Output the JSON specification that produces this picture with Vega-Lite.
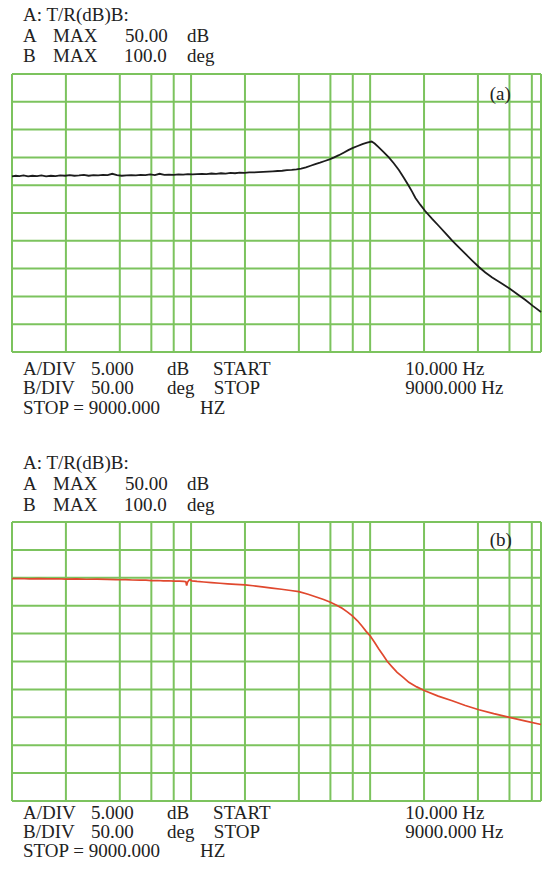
{
  "$schema": "https://vega.github.io/schema/vega-lite/v6.json",
  "background": "white",
  "autosize": {"type": "pad"},
  "padding": {"left": 8, "top": 6, "right": 0, "bottom": 0},
  "config": {
    "view": {"stroke": null},
    "font": "Liberation Serif"
  },
  "bounds": "flush",
  "spacing": 170,
  "resolve": {"scale": {"x": "independent", "y": "independent"}},
  "datasets": {
    "freqGrid": [
      {"f": 10}, {"f": 20}, {"f": 40}, {"f": 60}, {"f": 80}, {"f": 100}, {"f": 200}, {"f": 400},
      {"f": 600}, {"f": 800}, {"f": 1000}, {"f": 2000}, {"f": 4000}, {"f": 6000}, {"f": 8000}, {"f": 9000}
    ],
    "dbGrid": [
      {"v": 0}, {"v": 5}, {"v": 10}, {"v": 15}, {"v": 20}, {"v": 25}, {"v": 30}, {"v": 35}, {"v": 40}, {"v": 45}, {"v": 50}
    ],
    "degGrid": [
      {"v": -400}, {"v": -350}, {"v": -300}, {"v": -250}, {"v": -200}, {"v": -150}, {"v": -100}, {"v": -50}, {"v": 0}, {"v": 50}, {"v": 100}
    ],
    "magnitude": [
      {"f": 10, "db": 31.6}, {"f": 10.5, "db": 31.7}, {"f": 11, "db": 31.65}, {"f": 11.6, "db": 31.75},
      {"f": 12.3, "db": 31.6}, {"f": 13, "db": 31.7}, {"f": 13.8, "db": 31.65}, {"f": 14.6, "db": 31.75},
      {"f": 15.5, "db": 31.6}, {"f": 16.5, "db": 31.7}, {"f": 17.5, "db": 31.65}, {"f": 18.6, "db": 31.75},
      {"f": 19.8, "db": 31.7}, {"f": 21, "db": 31.8}, {"f": 22.3, "db": 31.7}, {"f": 23.7, "db": 31.75},
      {"f": 25.2, "db": 31.85}, {"f": 26.8, "db": 31.7}, {"f": 28.5, "db": 31.8}, {"f": 30.3, "db": 31.75},
      {"f": 32.2, "db": 31.85}, {"f": 34.2, "db": 31.8}, {"f": 36.3, "db": 32.05}, {"f": 38.6, "db": 31.8},
      {"f": 41, "db": 31.7}, {"f": 43.6, "db": 31.75}, {"f": 46.3, "db": 31.8}, {"f": 49.2, "db": 31.75},
      {"f": 52.3, "db": 31.85}, {"f": 55.6, "db": 31.8}, {"f": 59.1, "db": 31.95}, {"f": 62.8, "db": 31.8},
      {"f": 66.7, "db": 32.05}, {"f": 70.9, "db": 31.85}, {"f": 75.3, "db": 31.9}, {"f": 80, "db": 31.85},
      {"f": 85, "db": 31.95}, {"f": 90.4, "db": 31.9}, {"f": 96, "db": 32.0}, {"f": 102, "db": 31.95},
      {"f": 108, "db": 32.0}, {"f": 115, "db": 32.05}, {"f": 122, "db": 32.0}, {"f": 130, "db": 32.1},
      {"f": 138, "db": 32.05}, {"f": 147, "db": 32.15}, {"f": 156, "db": 32.1}, {"f": 166, "db": 32.2},
      {"f": 176, "db": 32.15}, {"f": 187, "db": 32.25}, {"f": 199, "db": 32.2}, {"f": 211, "db": 32.3},
      {"f": 224, "db": 32.3}, {"f": 238, "db": 32.35}, {"f": 253, "db": 32.4}, {"f": 269, "db": 32.45},
      {"f": 286, "db": 32.5}, {"f": 304, "db": 32.55}, {"f": 323, "db": 32.6}, {"f": 343, "db": 32.7},
      {"f": 365, "db": 32.75}, {"f": 388, "db": 32.85}, {"f": 412, "db": 33.0}, {"f": 438, "db": 33.2},
      {"f": 465, "db": 33.5}, {"f": 494, "db": 33.8}, {"f": 525, "db": 34.05}, {"f": 558, "db": 34.35},
      {"f": 593, "db": 34.65}, {"f": 630, "db": 35.0}, {"f": 669, "db": 35.4}, {"f": 711, "db": 35.85},
      {"f": 755, "db": 36.3}, {"f": 802, "db": 36.7}, {"f": 852, "db": 37.05}, {"f": 905, "db": 37.4},
      {"f": 961, "db": 37.65}, {"f": 1020, "db": 37.85}, {"f": 1060, "db": 37.5}, {"f": 1118, "db": 36.8},
      {"f": 1190, "db": 35.95}, {"f": 1272, "db": 35.0}, {"f": 1355, "db": 33.95}, {"f": 1447, "db": 32.73},
      {"f": 1545, "db": 31.3}, {"f": 1645, "db": 29.86}, {"f": 1715, "db": 28.85}, {"f": 1791, "db": 27.7},
      {"f": 1905, "db": 26.5}, {"f": 2029, "db": 25.36}, {"f": 2220, "db": 23.95}, {"f": 2420, "db": 22.66},
      {"f": 2640, "db": 21.35}, {"f": 2872, "db": 20.02}, {"f": 3130, "db": 18.8}, {"f": 3407, "db": 17.63},
      {"f": 3715, "db": 16.45}, {"f": 4049, "db": 15.29}, {"f": 4400, "db": 14.3}, {"f": 4804, "db": 13.4},
      {"f": 5380, "db": 12.4}, {"f": 6003, "db": 11.42}, {"f": 6650, "db": 10.4}, {"f": 7372, "db": 9.35},
      {"f": 8100, "db": 8.3}, {"f": 9000, "db": 7.19}
    ],
    "phase": [
      {"f": 10, "deg": -1.5}, {"f": 11, "deg": -1.3}, {"f": 12.5, "deg": -1.8}, {"f": 14, "deg": -1.5},
      {"f": 16, "deg": -1.9}, {"f": 18, "deg": -1.7}, {"f": 20, "deg": -2.3}, {"f": 23, "deg": -2.1},
      {"f": 26, "deg": -2.6}, {"f": 30, "deg": -2.5}, {"f": 34, "deg": -2.9}, {"f": 38, "deg": -3.1},
      {"f": 40, "deg": -3.5}, {"f": 43, "deg": -3.3}, {"f": 47, "deg": -3.9}, {"f": 52, "deg": -4.2},
      {"f": 56, "deg": -4.0}, {"f": 60, "deg": -5.0}, {"f": 65, "deg": -4.8}, {"f": 70, "deg": -5.4},
      {"f": 75, "deg": -5.3}, {"f": 80, "deg": -6.0}, {"f": 86, "deg": -5.9}, {"f": 91, "deg": -6.4},
      {"f": 93.5, "deg": -7.0}, {"f": 94.5, "deg": -14.0}, {"f": 95.5, "deg": -8.0}, {"f": 97.5, "deg": -4.0},
      {"f": 99, "deg": -3.5}, {"f": 101, "deg": -5.5}, {"f": 108, "deg": -6.5}, {"f": 118, "deg": -7.5},
      {"f": 130, "deg": -8.6}, {"f": 145, "deg": -9.8}, {"f": 160, "deg": -10.8}, {"f": 178, "deg": -11.7},
      {"f": 200, "deg": -12.6}, {"f": 222, "deg": -14.3}, {"f": 250, "deg": -16.4}, {"f": 283, "deg": -18.6},
      {"f": 320, "deg": -20.5}, {"f": 360, "deg": -22.8}, {"f": 400, "deg": -24.9}, {"f": 450, "deg": -29.5},
      {"f": 500, "deg": -34.5}, {"f": 550, "deg": -39.0}, {"f": 600, "deg": -43.9}, {"f": 650, "deg": -49.0},
      {"f": 698, "deg": -54.7}, {"f": 745, "deg": -61.0}, {"f": 793, "deg": -67.9}, {"f": 850, "deg": -77.0},
      {"f": 902, "deg": -86.9}, {"f": 950, "deg": -96.0}, {"f": 1004, "deg": -104.8}, {"f": 1060, "deg": -116.0},
      {"f": 1118, "deg": -127.6}, {"f": 1180, "deg": -138.5}, {"f": 1245, "deg": -149.6}, {"f": 1330, "deg": -160.0},
      {"f": 1415, "deg": -169.4}, {"f": 1530, "deg": -178.5}, {"f": 1645, "deg": -187.3}, {"f": 1820, "deg": -195.5},
      {"f": 2021, "deg": -202.3}, {"f": 2400, "deg": -212.0}, {"f": 2872, "deg": -220.3}, {"f": 3400, "deg": -228.8},
      {"f": 4049, "deg": -236.4}, {"f": 4900, "deg": -243.5}, {"f": 6003, "deg": -250.0}, {"f": 7300, "deg": -256.5},
      {"f": 9000, "deg": -262.9}
    ],
    "notesA": [
      {"t": "A: T/R(dB)B:", "f": 11.52, "v": 59.53},
      {"t": "A", "f": 11.52, "v": 55.76},
      {"t": "MAX", "f": 16.95, "v": 55.76},
      {"t": "50.00", "f": 42.8, "v": 55.76},
      {"t": "dB", "f": 95.0, "v": 55.76},
      {"t": "B", "f": 11.52, "v": 52.07},
      {"t": "MAX", "f": 16.95, "v": 52.07},
      {"t": "100.0", "f": 42.2, "v": 52.07},
      {"t": "deg", "f": 95.0, "v": 52.07},
      {"t": "A/DIV", "f": 11.52, "v": -4.14},
      {"t": "5.000", "f": 27.6, "v": -4.14},
      {"t": "dB", "f": 73.4, "v": -4.14},
      {"t": "START", "f": 132.7, "v": -4.14},
      {"t": "10.000 Hz", "f": 1569, "v": -4.14},
      {"t": "B/DIV", "f": 11.52, "v": -7.55},
      {"t": "50.00", "f": 27.6, "v": -7.55},
      {"t": "deg", "f": 73.4, "v": -7.55},
      {"t": "STOP", "f": 134, "v": -7.55},
      {"t": "9000.000 Hz", "f": 1569, "v": -7.55},
      {"t": "STOP = 9000.000", "f": 11.52, "v": -11.15},
      {"t": "HZ", "f": 112.3, "v": -11.15},
      {"t": "(a)", "f": 4650, "v": 45.4}
    ],
    "notesB": [
      {"t": "A: T/R(dB)B:", "f": 11.52, "v": 195.0},
      {"t": "A", "f": 11.52, "v": 157.3},
      {"t": "MAX", "f": 16.95, "v": 157.3},
      {"t": "50.00", "f": 42.8, "v": 157.3},
      {"t": "dB", "f": 95.0, "v": 157.3},
      {"t": "B", "f": 11.52, "v": 120.6},
      {"t": "MAX", "f": 16.95, "v": 120.6},
      {"t": "100.0", "f": 42.2, "v": 120.6},
      {"t": "deg", "f": 95.0, "v": 120.6},
      {"t": "A/DIV", "f": 11.52, "v": -432.3},
      {"t": "5.000", "f": 27.6, "v": -432.3},
      {"t": "dB", "f": 73.4, "v": -432.3},
      {"t": "START", "f": 132.7, "v": -432.3},
      {"t": "10.000 Hz", "f": 1569, "v": -432.3},
      {"t": "B/DIV", "f": 11.52, "v": -466.3},
      {"t": "50.00", "f": 27.6, "v": -466.3},
      {"t": "deg", "f": 73.4, "v": -466.3},
      {"t": "STOP", "f": 134, "v": -466.3},
      {"t": "9000.000 Hz", "f": 1569, "v": -466.3},
      {"t": "STOP = 9000.000", "f": 11.52, "v": -500.4},
      {"t": "HZ", "f": 112.3, "v": -500.4},
      {"t": "(b)", "f": 4650, "v": 57.5}
    ]
  },
  "vconcat": [
    {
      "width": 529,
      "height": 278,
      "encoding": {
        "x": {"field": "f", "type": "quantitative", "scale": {"type": "log", "domain": [10, 9000], "nice": false}, "axis": null}
      },
      "layer": [
        {
          "data": {"name": "freqGrid"},
          "mark": {"type": "rule", "color": "#7cc35e", "strokeWidth": 2},
          "encoding": {}
        },
        {
          "data": {"name": "dbGrid"},
          "mark": {"type": "rule", "color": "#7cc35e", "strokeWidth": 2},
          "encoding": {
            "x": null,
            "y": {"field": "v", "type": "quantitative", "scale": {"domain": [0, 50], "nice": false, "zero": false}, "axis": null}
          }
        },
        {
          "data": {"name": "magnitude"},
          "mark": {"type": "line", "color": "#1c1c1c", "strokeWidth": 1.8},
          "encoding": {
            "y": {"field": "db", "type": "quantitative", "scale": {"domain": [0, 50], "nice": false, "zero": false}, "axis": null}
          }
        },
        {
          "data": {"name": "notesA"},
          "mark": {"type": "text", "align": "left", "baseline": "alphabetic", "fontSize": 19, "color": "#222222"},
          "encoding": {
            "y": {"field": "v", "type": "quantitative", "scale": {"domain": [0, 50], "nice": false, "zero": false}, "axis": null},
            "text": {"field": "t"}
          }
        }
      ]
    },
    {
      "width": 529,
      "height": 279,
      "encoding": {
        "x": {"field": "f", "type": "quantitative", "scale": {"type": "log", "domain": [10, 9000], "nice": false}, "axis": null}
      },
      "layer": [
        {
          "data": {"name": "freqGrid"},
          "mark": {"type": "rule", "color": "#7cc35e", "strokeWidth": 2},
          "encoding": {}
        },
        {
          "data": {"name": "degGrid"},
          "mark": {"type": "rule", "color": "#7cc35e", "strokeWidth": 2},
          "encoding": {
            "x": null,
            "y": {"field": "v", "type": "quantitative", "scale": {"domain": [-400, 100], "nice": false, "zero": false}, "axis": null}
          }
        },
        {
          "data": {"name": "phase"},
          "mark": {"type": "line", "color": "#e0482e", "strokeWidth": 1.7},
          "encoding": {
            "y": {"field": "deg", "type": "quantitative", "scale": {"domain": [-400, 100], "nice": false, "zero": false}, "axis": null}
          }
        },
        {
          "data": {"name": "notesB"},
          "mark": {"type": "text", "align": "left", "baseline": "alphabetic", "fontSize": 19, "color": "#222222"},
          "encoding": {
            "y": {"field": "v", "type": "quantitative", "scale": {"domain": [-400, 100], "nice": false, "zero": false}, "axis": null},
            "text": {"field": "t"}
          }
        }
      ]
    }
  ]
}
